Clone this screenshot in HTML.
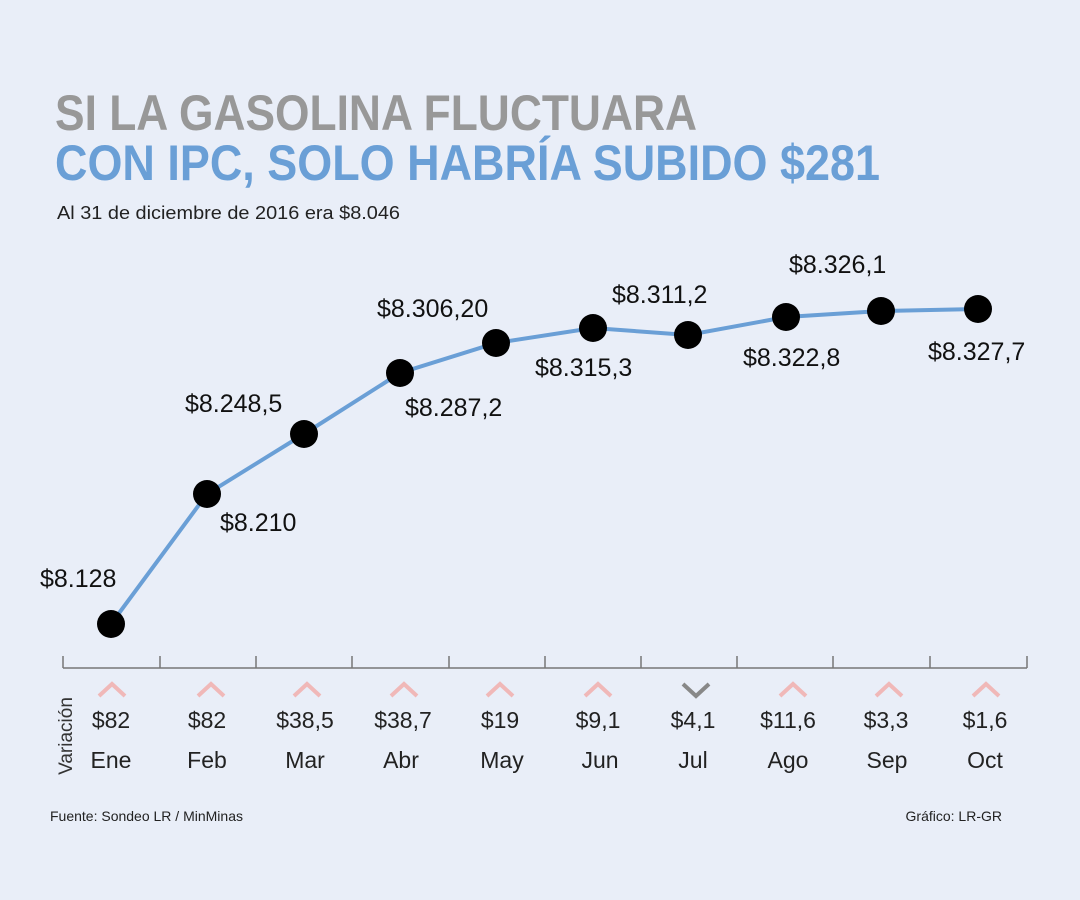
<!DOCTYPE html>
<html><head><meta charset="utf-8"><style>
body{margin:0;background:#e9eef8}
svg{display:block}
text{font-family:"Liberation Sans",sans-serif}
</style></head><body>
<svg width="1080" height="900" viewBox="0 0 1080 900">
<rect width="1080" height="900" fill="#e9eef8"/>
<text x="55" y="130" font-size="50" font-weight="bold" fill="#989898" textLength="642" lengthAdjust="spacingAndGlyphs">SI LA GASOLINA FLUCTUARA</text>
<text x="55" y="180" font-size="50" font-weight="bold" fill="#6a9fd6" textLength="825" lengthAdjust="spacingAndGlyphs">CON IPC, SOLO HABRÍA SUBIDO $281</text>
<text x="57" y="219" font-size="18" fill="#222" textLength="343" lengthAdjust="spacingAndGlyphs">Al 31 de diciembre de 2016 era $8.046</text>
<polyline fill="none" stroke="#6a9fd6" stroke-width="4" points="111,624 207,494 304,434 400,373 496,343 593,328 688,335 786,317 881,311 978,309"/>
<g fill="#000">
<circle cx="111" cy="624" r="14"/><circle cx="207" cy="494" r="14"/><circle cx="304" cy="434" r="14"/><circle cx="400" cy="373" r="14"/><circle cx="496" cy="343" r="14"/><circle cx="593" cy="328" r="14"/><circle cx="688" cy="335" r="14"/><circle cx="786" cy="317" r="14"/><circle cx="881" cy="311" r="14"/><circle cx="978" cy="309" r="14"/>
</g>
<g font-size="25" fill="#111">
<text x="40" y="587">$8.128</text>
<text x="220" y="531">$8.210</text>
<text x="185" y="412">$8.248,5</text>
<text x="377" y="317">$8.306,20</text>
<text x="405" y="416">$8.287,2</text>
<text x="535" y="376">$8.315,3</text>
<text x="612" y="303">$8.311,2</text>
<text x="789" y="273">$8.326,1</text>
<text x="743" y="366">$8.322,8</text>
<text x="928" y="360">$8.327,7</text>
</g>
<g stroke="#777" stroke-width="1.5" fill="none">
<line x1="63" y1="668" x2="1027" y2="668"/>
<path d="M63 656V668M160 656V668M256 656V668M352 656V668M449 656V668M545 656V668M641 656V668M737 656V668M833 656V668M930 656V668M1027 656V668"/>
</g>
<g stroke="#f0b8b8" stroke-width="4" fill="none">
<path d="M99 696L112 684L125 696"/><path d="M198 696L211 684L224 696"/><path d="M294 696L307 684L320 696"/><path d="M391 696L404 684L417 696"/><path d="M487 696L500 684L513 696"/><path d="M585 696L598 684L611 696"/><path d="M780 696L793 684L806 696"/><path d="M876 696L889 684L902 696"/><path d="M973 696L986 684L999 696"/>
</g>
<path d="M683 684L696 696L709 684" stroke="#888" stroke-width="4" fill="none"/>
<g font-size="23" fill="#222" text-anchor="middle">
<text x="111" y="728">$82</text><text x="207" y="728">$82</text><text x="305" y="728">$38,5</text><text x="403" y="728">$38,7</text><text x="500" y="728">$19</text><text x="598" y="728">$9,1</text><text x="693" y="728">$4,1</text><text x="788" y="728">$11,6</text><text x="886" y="728">$3,3</text><text x="985" y="728">$1,6</text>
<text x="111" y="768">Ene</text><text x="207" y="768">Feb</text><text x="305" y="768">Mar</text><text x="401" y="768">Abr</text><text x="502" y="768">May</text><text x="600" y="768">Jun</text><text x="693" y="768">Jul</text><text x="788" y="768">Ago</text><text x="887" y="768">Sep</text><text x="985" y="768">Oct</text>
</g>
<text transform="translate(72,736) rotate(-90)" font-size="19" fill="#333" text-anchor="middle">Variación</text>
<text x="50" y="821" font-size="14" fill="#222">Fuente: Sondeo LR / MinMinas</text>
<text x="1002" y="821" font-size="14" fill="#222" text-anchor="end">Gráfico: LR-GR</text>
</svg>
</body></html>
